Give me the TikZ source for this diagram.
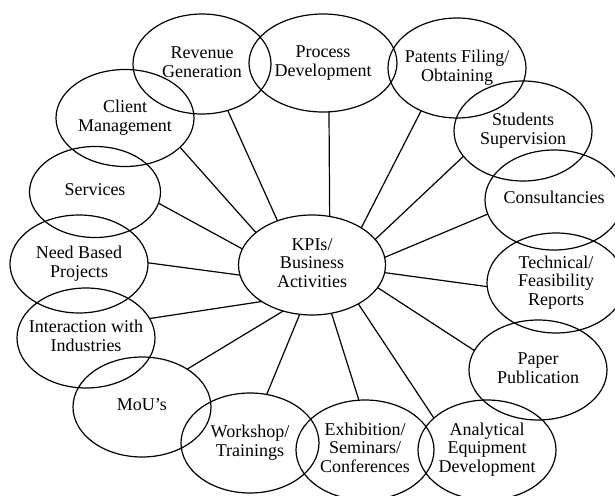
\documentclass[tikz,border=0pt]{standalone}
\usepackage{fontspec}
\setmainfont{Liberation Serif}
\usetikzlibrary{shapes.geometric}
\newcommand{\bubtext}[1]{\smash{\makebox[0pt]{\raisebox{-0.25em}{\begin{tabular}{@{}c@{}}#1\end{tabular}}}}}

\begin{document}
\begin{tikzpicture}[x=1pt,y=-1pt,line width=1.2pt,
  bubble/.style={draw,ellipse,inner sep=0pt,outer sep=0pt,minimum width=138pt,minimum height=100pt,font=\fontsize{18}{18.5}\selectfont}]
\useasboundingbox (0,0) rectangle (615,495);

\node[bubble,minimum width=147pt] (kpi) at (312,265) {\bubtext{KPIs/\\Business\\Activities}};

\node[bubble] (rev) at (202,64) {\bubtext{Revenue\\Generation}};
\node[bubble,minimum width=148pt,minimum height=98pt] (proc) at (323,63) {\bubtext{Process\\Development}};
\node[bubble] (patent) at (457,68) {\bubtext{Patents Filing/\\Obtaining}};
\node[bubble] (student) at (523,131) {\bubtext{Students\\Supervision}};
\node[bubble] (consult) at (554,200) {\bubtext{Consultancies}};
\node[bubble] (tech) at (556,283) {\bubtext{Technical/\\Feasibility\\Reports}};
\node[bubble] (paper) at (538,370) {\bubtext{Paper\\Publication}};
\node[bubble] (analyt) at (487,450) {\bubtext{Analytical\\Equipment\\Development}};
\node[bubble] (exhib) at (365,450) {\bubtext{Exhibition/\\Seminars/\\Conferences}};
\node[bubble] (workshop) at (250,443) {\bubtext{Workshop/\\Trainings}};
\node[bubble] (mou) at (142,407) {\bubtext{MoU’s\\ }};
\node[bubble] (industry) at (86,338) {\bubtext{Interaction with\\Industries}};
\node[bubble,minimum height=98pt] (need) at (79,264) {\bubtext{Need Based\\Projects}};
\node[bubble,minimum width=131pt,minimum height=91pt] (service) at (95,192) {\bubtext{Services}};
\node[bubble,minimum height=97pt] (client) at (125,118) {\bubtext{Client\\Management}};

\draw (kpi.128) -- (rev.-61);
\draw (kpi.70) -- (proc.-83);
\draw (kpi.37) -- (patent.-130);
\draw (kpi.22) -- (student.-157);
\draw (kpi.6) -- (consult.-168);
\draw (kpi.-6) -- (tech.183);
\draw (kpi.-19) -- (paper.163);
\draw (kpi.-40) -- (analyt.149);
\draw (kpi.-68) -- (exhib.97);
\draw (kpi.-104) -- (workshop.71);
\draw (kpi.-122) -- (mou.40);
\draw (kpi.-144) -- (industry.17);
\draw (kpi.-172) -- (need.1);
\draw (kpi.167) -- (service.-10);
\draw (kpi.150) -- (client.-28);

\end{tikzpicture}
\end{document}
